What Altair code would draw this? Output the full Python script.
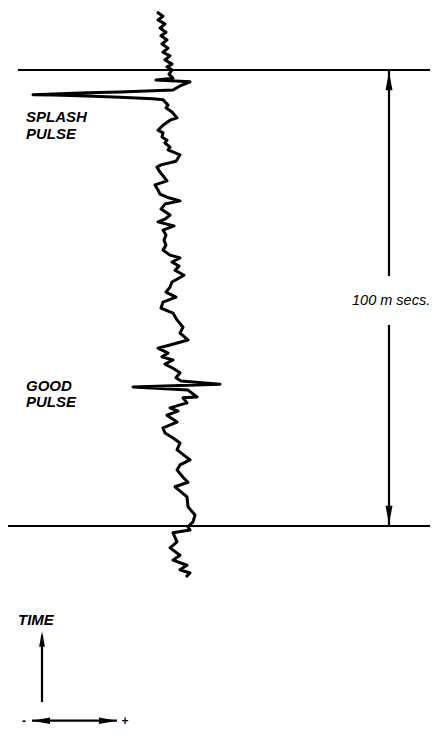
import altair as alt
import pandas as pd

# ---- seismic trace (time in ms, amplitude in arbitrary units) ----
trace_time = [
    112.7, 111.8, 111.0, 110.1, 109.2, 108.3, 107.5, 106.6, 105.7, 104.8,
    103.9, 103.1, 102.2, 101.3, 100.7, 100.0, 99.1, 98.2, 97.8, 97.4,
    96.5, 95.6, 95.2, 95.0, 94.6, 94.5, 94.3, 94.0, 93.7, 93.5,
    92.3, 91.7, 90.8, 89.5, 89.0, 87.9, 86.8, 86.2, 85.3, 84.6,
    84.0, 83.1, 82.5, 81.4, 80.0, 79.2, 78.7, 77.6, 76.8, 75.7,
    74.8, 73.7, 72.8, 72.1, 71.3, 70.6, 69.5, 68.2, 67.3, 66.7,
    65.8, 64.9, 63.8, 62.7, 61.6, 60.5, 59.4, 58.8, 57.9, 57.0,
    56.1, 55.0, 53.5, 52.4, 51.3, 50.2, 49.1, 47.8, 46.7, 45.2,
    43.6, 42.3, 40.8, 39.7, 39.0, 37.9, 37.1, 36.4, 35.5, 34.6,
    33.6, 32.5, 31.8, 31.1, 30.5, 29.8, 28.3, 28.1, 27.0, 25.9,
    25.2, 24.3, 22.8, 21.5, 20.4, 19.3, 18.2, 16.7, 14.5, 13.4,
    12.3, 10.7, 9.6, 8.6, 6.4, 4.2, 2.4, 0.9, -0.2, -0.9,
    -1.5, -3.5, -4.8, -6.4, -7.5, -8.6, -9.6, -10.3, -11.2,
]
trace_amp = [
    -18, -12, -17, -10, -15, -9, -14, -8, -13, -7,
    -12, -5, -10, -3, -8, -3, -6, -2, -19, 15,
    5, -2, -55, -88, -142, -122, -88, -55, -22, -12,
    -7, -9, -3, 2, -5, -12, -17, -12, -13, -8,
    -10, -5, -7, 5, 1, -14, -18, -15, -12, -8,
    -20, -17, -15, -8, 5, -10, -14, -5, -10, -17,
    -1, -12, -9, -11, -9, -12, -5, 5, -3, 4,
    0, 9, -3, -5, -9, 1, -12, -14, -2, 2,
    8, 5, 13, -5, -17, -7, -13, -2, -10, -2,
    5, 1, 6, 45, -42, 13, 22, 8, 12, -5,
    3, -8, 2, -12, -10, -2, 5, 2, 15, 5,
    2, 8, 13, 0, 12, 13, 20, 18, 13, 15,
    -2, 2, -5, 5, -2, 12, 5, 15, 11,
]

# ---- reference time lines (ms) ----
marker_time = [100, 0]
marker_amp_start = [-157, -175]
marker_amp_end = [263, 263]

# ---- 100 ms bracket ----
bracket_amp = [214, 214]
bracket_t1 = [100.0, 44.1]
bracket_t2 = [54.8, 0.0]
bracket_head_up = (214, 97.6)
bracket_head_down = (214, 2.4)

# ---- TIME key arrow ----
time_arrow_amp = -133
time_arrow_t1 = -38.6
time_arrow_t2 = -24.0
time_head = (-133, -24.8)

# ---- polarity key (- / +) ----
pol_time = -42.7
pol_amp1 = -143
pol_amp2 = -58
pol_head_left = (-134, -42.7)
pol_head_right = (-67, -42.7)

# ---- labels ----
label_text = ["SPLASH", "PULSE", "GOOD", "PULSE", "TIME"]
label_amp = [-149, -149, -149, -149, -157]
label_time = [88.6, 84.9, 29.6, 26.1, -21.7]

scale_text = ["100 m secs."]
scale_amp = [177]
scale_time = [48.5]

sign_text = ["-", "+"]
sign_amp = [-151, -50]
sign_time = [-42.7, -42.7]

X = alt.Scale(domain=[-167, 255], nice=False, zero=False)
Y = alt.Scale(domain=[-44.3, 113.6], nice=False, zero=False)

def xe(f):
    return alt.X(f, type="quantitative", scale=X, axis=None)

def ye(f):
    return alt.Y(f, type="quantitative", scale=Y, axis=None)

trace_df = pd.DataFrame({"i": range(len(trace_time)), "t": trace_time, "a": trace_amp})
trace = alt.Chart(trace_df).mark_line(color="black", strokeWidth=3, strokeJoin="round").encode(
    x=xe("a"), y=ye("t"), order=alt.Order("i:Q")
)

marker_df = pd.DataFrame({"t": marker_time, "a1": marker_amp_start, "a2": marker_amp_end})
markers = alt.Chart(marker_df).mark_rule(color="black", strokeWidth=2).encode(
    x=xe("a1"), x2="a2", y=ye("t")
)

br_df = pd.DataFrame({"a": bracket_amp, "t1": bracket_t1, "t2": bracket_t2})
bracket = alt.Chart(br_df).mark_rule(color="black", strokeWidth=2.2).encode(
    x=xe("a"), y=ye("t1"), y2="t2"
)

ta_df = pd.DataFrame({"a": [time_arrow_amp], "t1": [time_arrow_t1], "t2": [time_arrow_t2]})
time_arrow = alt.Chart(ta_df).mark_rule(color="black", strokeWidth=2.2).encode(
    x=xe("a"), y=ye("t1"), y2="t2"
)

pol_df = pd.DataFrame({"t": [pol_time], "a1": [pol_amp1], "a2": [pol_amp2]})
pol_line = alt.Chart(pol_df).mark_rule(color="black", strokeWidth=2.2).encode(
    x=xe("a1"), x2="a2", y=ye("t")
)

UP = "M0,-1 L0.38,1 L-0.38,1 Z"
DOWN = "M0,1 L0.38,-1 L-0.38,-1 Z"
LEFT = "M-1,0 L1,-0.36 L1,0.36 Z"
RIGHT = "M1,0 L-1,-0.36 L-1,0.36 Z"

def head(pt, shape, size):
    d = pd.DataFrame({"a": [pt[0]], "t": [pt[1]]})
    return alt.Chart(d).mark_point(shape=shape, filled=True, color="black", opacity=1, size=size).encode(
        x=xe("a"), y=ye("t")
    )

heads = [
    head(bracket_head_up, UP, 340),
    head(bracket_head_down, DOWN, 340),
    head(time_head, UP, 230),
    head(pol_head_left, LEFT, 330),
    head(pol_head_right, RIGHT, 330),
]

lab_df = pd.DataFrame({"txt": label_text, "a": label_amp, "t": label_time})
labels = alt.Chart(lab_df).mark_text(
    align="left", baseline="alphabetic", font="Liberation Sans", fontSize=15,
    fontWeight="bold", fontStyle="italic", color="black"
).encode(x=xe("a"), y=ye("t"), text="txt:N")

sc_df = pd.DataFrame({"txt": scale_text, "a": scale_amp, "t": scale_time})
scale_label = alt.Chart(sc_df).mark_text(
    align="left", baseline="alphabetic", font="Liberation Sans", fontSize=14.5,
    fontStyle="italic", color="black"
).encode(x=xe("a"), y=ye("t"), text="txt:N")

sg_df = pd.DataFrame({"txt": sign_text, "a": sign_amp, "t": sign_time})
signs = alt.Chart(sg_df).mark_text(
    align="center", baseline="middle", font="Liberation Sans", fontSize=12,
    fontWeight="bold", color="black"
).encode(x=xe("a"), y=ye("t"), text="txt:N")

chart = alt.layer(
    markers, bracket, time_arrow, pol_line, trace, *heads, labels, scale_label, signs
).properties(
    width=422, height=720, autosize="none",
    padding=0,
    background="white",
).configure_view(stroke=None)

chart.save("out.html", embed_options={"renderer": "svg", "actions": False})
